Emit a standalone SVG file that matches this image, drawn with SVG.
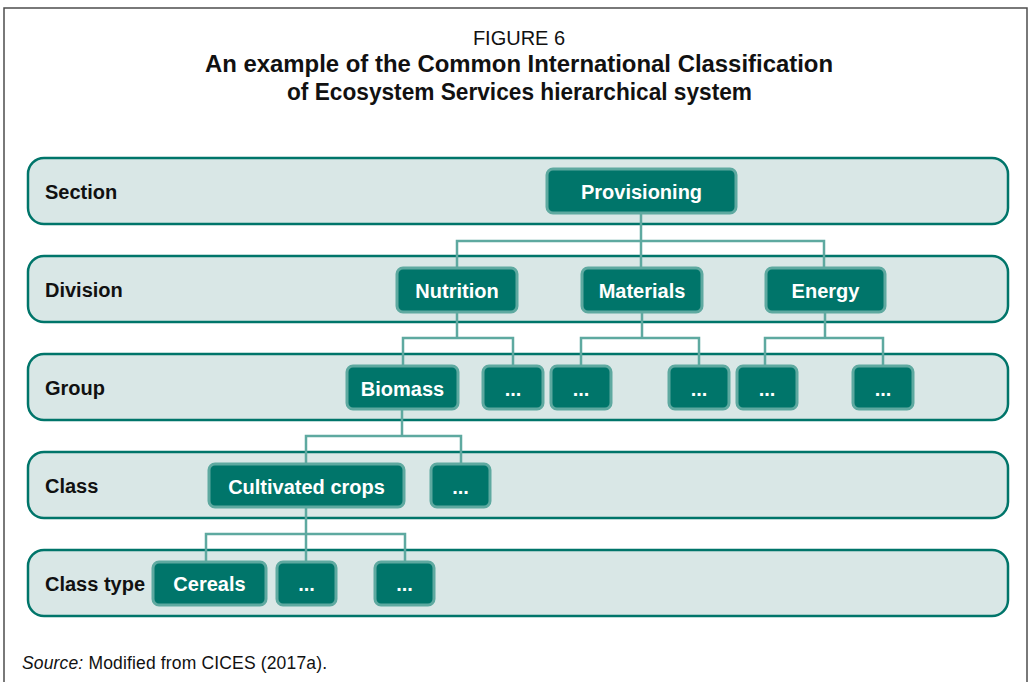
<svg xmlns="http://www.w3.org/2000/svg" width="1030" height="682" viewBox="0 0 1030 682">
<style>
.frame{fill:none;stroke:#4d4d4d;stroke-width:1.5}
.band{fill:#d9e7e6;stroke:#00756a;stroke-width:2.5}
.node{fill:#00756a;stroke:#5ea9a0;stroke-width:3}
.lbl{font-family:"Liberation Sans",Arial,sans-serif;font-weight:bold;font-size:20px;fill:#111}
.nt{font-family:"Liberation Sans",Arial,sans-serif;font-weight:bold;font-size:20px;fill:#fff;text-anchor:middle}
.conn{fill:none;stroke:#5ea9a0;stroke-width:2.5}
.t1{font-family:"Liberation Sans",Arial,sans-serif;font-size:20px;fill:#111;text-anchor:middle}
.t2{font-family:"Liberation Sans",Arial,sans-serif;font-weight:bold;font-size:23px;fill:#111;text-anchor:middle}
.src{font-family:"Liberation Sans",Arial,sans-serif;font-size:17.5px;fill:#111}
</style>
<path class="frame" d="M4,682 V8 H1027 V682"/>
<g id="title">
<text class="t1" x="519" y="45">FIGURE 6</text>
<text class="t2" x="519" y="72" textLength="628" lengthAdjust="spacingAndGlyphs">An example of the Common International Classification</text>
<text class="t2" x="519.5" y="100" textLength="465" lengthAdjust="spacingAndGlyphs">of Ecosystem Services hierarchical system</text>
</g>
<g id="bands">
<g id="band-section"><rect class="band" x="28" y="158" width="980" height="66" rx="16"/><text class="lbl" x="45" y="199">Section</text></g>
<g id="band-division"><rect class="band" x="28" y="256" width="980" height="66" rx="16"/><text class="lbl" x="45" y="297">Division</text></g>
<g id="band-group"><rect class="band" x="28" y="354" width="980" height="66" rx="16"/><text class="lbl" x="45" y="395">Group</text></g>
<g id="band-class"><rect class="band" x="28" y="452" width="980" height="66" rx="16"/><text class="lbl" x="45" y="493">Class</text></g>
<g id="band-classtype"><rect class="band" x="28" y="550" width="980" height="66" rx="16"/><text class="lbl" x="45" y="591">Class type</text></g>
</g>
<g id="connectors">
<path class="conn" d="M641,213 V241 M457,267 V241 H824 V267 M641,241 V267"/>
<path class="conn" d="M457,312 V338 M403,366 V338 H513 V366"/>
<path class="conn" d="M642,312 V338 M581,366 V338 H699 V366"/>
<path class="conn" d="M825,312 V338 M765,366 V338 H883 V366"/>
<path class="conn" d="M402,409 V436 M306,464 V436 H461 V464"/>
<path class="conn" d="M306,507 V534 M206,562 V534 H405 V562 M306,534 V562"/>
</g>
<g id="node-provisioning"><rect class="node" x="547" y="169" width="189" height="44" rx="6"/><text class="nt" x="641.5" y="199">Provisioning</text></g>
<g id="node-nutrition"><rect class="node" x="397" y="268" width="120" height="44" rx="6"/><text class="nt" x="457" y="298">Nutrition</text></g>
<g id="node-materials"><rect class="node" x="582" y="268" width="120" height="44" rx="6"/><text class="nt" x="642" y="298">Materials</text></g>
<g id="node-energy"><rect class="node" x="766" y="268" width="119" height="44" rx="6"/><text class="nt" x="825.5" y="298">Energy</text></g>
<g id="node-biomass"><rect class="node" x="347" y="366" width="111" height="43" rx="6"/><text class="nt" x="402.5" y="396">Biomass</text></g>
<g id="node-g2"><rect class="node" x="483" y="366" width="60" height="43" rx="6"/><text class="nt" x="513" y="396">...</text></g>
<g id="node-g3"><rect class="node" x="551" y="366" width="60" height="43" rx="6"/><text class="nt" x="581" y="396">...</text></g>
<g id="node-g4"><rect class="node" x="669" y="366" width="60" height="43" rx="6"/><text class="nt" x="699" y="396">...</text></g>
<g id="node-g5"><rect class="node" x="737" y="366" width="60" height="43" rx="6"/><text class="nt" x="767" y="396">...</text></g>
<g id="node-g6"><rect class="node" x="853" y="366" width="60" height="43" rx="6"/><text class="nt" x="883" y="396">...</text></g>
<g id="node-cultivated"><rect class="node" x="209" y="464" width="195" height="43" rx="6"/><text class="nt" x="306.5" y="494">Cultivated crops</text></g>
<g id="node-c2"><rect class="node" x="431" y="464" width="59" height="43" rx="6"/><text class="nt" x="460.5" y="494">...</text></g>
<g id="node-cereals"><rect class="node" x="153" y="562" width="113" height="43" rx="6"/><text class="nt" x="209.5" y="591">Cereals</text></g>
<g id="node-ct2"><rect class="node" x="277" y="562" width="59" height="43" rx="6"/><text class="nt" x="306.5" y="591">...</text></g>
<g id="node-ct3"><rect class="node" x="375" y="562" width="59" height="43" rx="6"/><text class="nt" x="404.5" y="591">...</text></g>
<text class="src" x="22" y="669" textLength="305" lengthAdjust="spacing"><tspan font-style="italic">Source:</tspan> Modified from CICES (2017a).</text>
</svg>
